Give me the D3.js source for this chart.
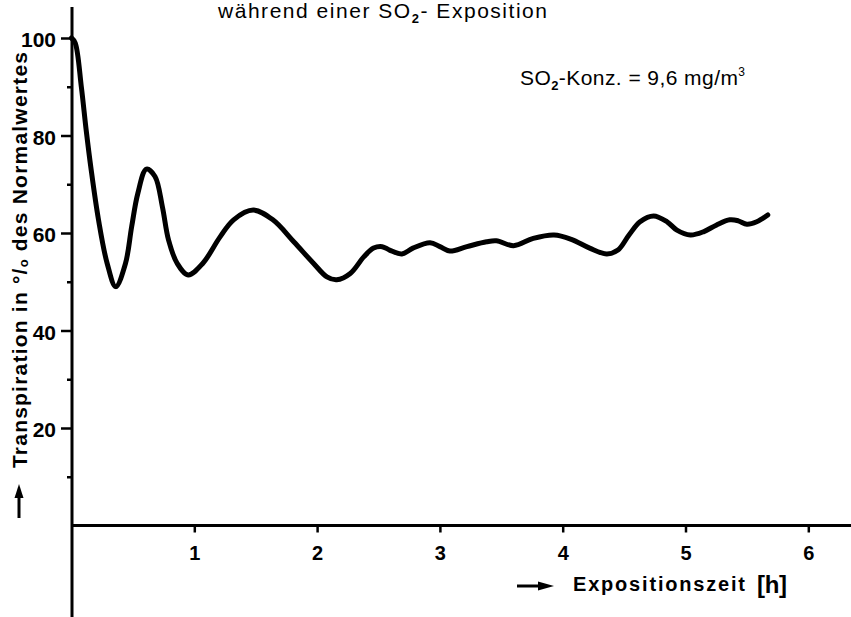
<!DOCTYPE html>
<html>
<head>
<meta charset="utf-8">
<script src="https://cdn.jsdelivr.net/npm/d3@7/dist/d3.min.js"></script>
<style>
  body { margin: 0; background: #fff; }
  svg text { fill: #000; }
</style>
</head>
<body>
<div id="chart"></div>
<script>
// Transpiration (% of normal) during SO2 exposure
var hours = [0, 0.03, 0.08, 0.12, 0.16, 0.22, 0.29, 0.36, 0.44, 0.49,
  0.54, 0.61, 0.68, 0.74, 0.79, 0.86, 0.95, 1.07, 1.21, 1.32,
  1.48, 1.64, 1.81, 1.97, 2.08, 2.16, 2.27, 2.38, 2.46, 2.53,
  2.59, 2.69, 2.78, 2.92, 3.0, 3.08, 3.22, 3.38, 3.46, 3.6,
  3.76, 3.93, 4.07, 4.22, 4.36, 4.45, 4.54, 4.63, 4.74, 4.85,
  4.93, 5.04, 5.15, 5.25, 5.36, 5.43, 5.5, 5.58, 5.67];
var transpiration = [100, 99, 90, 81, 73, 62.7, 53.8, 49, 53.8, 61.3,
  68.1, 73.1, 71.6, 65.4, 58.6, 53.8, 51.4, 53.8, 59.2, 62.7,
  64.7, 62.7, 58.2, 53.8, 51, 50.4, 51.7, 55.1, 56.9, 57.2,
  56.5, 55.7, 56.9, 58, 57.2, 56.3, 57.2, 58.2, 58.4, 57.4,
  58.9, 59.6, 58.7, 56.9, 55.7, 56.5, 59.6, 62.3, 63.5, 62.3,
  60.6, 59.6, 60.3, 61.6, 62.7, 62.5, 61.8, 62.3, 63.7];

var xTicks = [1, 2, 3, 4, 5, 6];
var yTicks = [20, 40, 60, 80, 100];
var yMinorTicks = [10, 30, 50, 70, 90];

var W = 851, H = 617;
var svg = d3.select("#chart").append("svg")
  .attr("width", W).attr("height", H);

var x = d3.scaleLinear().domain([0, 6]).range([71.5, 808.3]);
var y = d3.scaleLinear().domain([0, 100]).range([525.5, 38]);

var narrowFont = "'Liberation Sans Narrow', 'Liberation Sans', Arial, sans-serif";
var textFont = "'Liberation Sans', Arial, sans-serif";

// axis lines (run past the data range like in the print)
svg.append("line")
  .attr("x1", 72).attr("x2", 72).attr("y1", 7).attr("y2", H)
  .attr("stroke", "#000").attr("stroke-width", 3);
svg.append("line")
  .attr("x1", 72).attr("x2", W).attr("y1", y(0)).attr("y2", y(0))
  .attr("stroke", "#000").attr("stroke-width", 3);

// y axis
var yAxis = svg.append("g")
  .attr("transform", "translate(72,0)")
  .call(d3.axisLeft(y).tickValues(yTicks).tickSize(11).tickPadding(5));
var yMinor = svg.append("g")
  .attr("transform", "translate(72,0)")
  .call(d3.axisLeft(y).tickValues(yMinorTicks).tickSize(5).tickFormat(""));

// x axis
var xAxis = svg.append("g")
  .attr("transform", "translate(0," + y(0) + ")")
  .call(d3.axisBottom(x).tickValues(xTicks).tickSize(7).tickPadding(13).tickFormat(d3.format("d")));

[yAxis, yMinor, xAxis].forEach(function (g) {
  g.select(".domain").remove();
  g.selectAll(".tick line").attr("stroke", "#000").attr("stroke-width", 2.5);
  g.selectAll(".tick text")
    .style("font-weight", "bold");
});
yAxis.selectAll(".tick text")
  .attr("dy", "0.42em")
  .style("font-family", textFont)
  .style("font-size", "21px");
xAxis.selectAll(".tick text")
  .style("font-family", narrowFont)
  .style("font-size", "20px");

// curve
var line = d3.line()
  .x(function (d, i) { return x(hours[i]); })
  .y(function (d) { return y(d); })
  .curve(d3.curveCatmullRom.alpha(0.5));

svg.append("path")
  .datum(transpiration)
  .attr("d", line)
  .attr("fill", "none")
  .attr("stroke", "#000")
  .attr("stroke-width", 5)
  .attr("stroke-linejoin", "round")
  .attr("stroke-linecap", "round");

// title (at the top edge of the scan)
var title = svg.append("text")
  .attr("x", 218).attr("y", 18)
  .attr("textLength", 329).attr("lengthAdjust", "spacing")
  .style("font-family", textFont)
  .style("font-size", "21px");
title.append("tspan").text("während einer SO");
title.append("tspan").attr("dy", 5).style("font-size", "13px").style("font-weight", "bold").text("2");
title.append("tspan").attr("dy", -5).text("- Exposition");

// concentration note
var note = svg.append("text")
  .attr("x", 520).attr("y", 85)
  .attr("textLength", 225).attr("lengthAdjust", "spacing")
  .style("font-family", textFont)
  .style("font-size", "21px");
note.append("tspan").text("SO");
note.append("tspan").attr("dy", 5).style("font-size", "13px").style("font-weight", "bold").text("2");
note.append("tspan").attr("dy", -5).text("-Konz. = 9,6 mg/m");
note.append("tspan").attr("dy", -9).style("font-size", "12px").text("3");

// y title
var yTitle = svg.append("text")
  .attr("transform", "translate(27,468) rotate(-90)")
  .attr("textLength", 416).attr("lengthAdjust", "spacing")
  .style("font-family", textFont)
  .style("font-weight", "bold")
  .style("font-size", "21px");
yTitle.append("tspan").text("Transpiration in °/");
yTitle.append("tspan").attr("dy", 1).style("font-size", "13px").text("o");
yTitle.append("tspan").attr("dy", -1).text(" des Normalwertes");

// y arrow
svg.append("line")
  .attr("x1", 19).attr("x2", 19).attr("y1", 518).attr("y2", 495)
  .attr("stroke", "#000").attr("stroke-width", 3);
svg.append("path")
  .attr("d", "M19,484 L14.5,498 L23.5,498 Z")
  .attr("fill", "#000");

// x title with arrow
svg.append("line")
  .attr("x1", 517).attr("x2", 542).attr("y1", 586).attr("y2", 586)
  .attr("stroke", "#000").attr("stroke-width", 3);
svg.append("path")
  .attr("d", "M554,586 L538,581.5 L538,590.5 Z")
  .attr("fill", "#000");
svg.append("text")
  .attr("x", 573).attr("y", 591)
  .attr("textLength", 172).attr("lengthAdjust", "spacing")
  .style("font-family", textFont)
  .style("font-weight", "bold")
  .style("font-size", "20px")
  .text("Expositionszeit");
svg.append("text")
  .attr("x", 757).attr("y", 593)
  .attr("textLength", 30).attr("lengthAdjust", "spacing")
  .style("font-family", textFont)
  .style("font-weight", "bold")
  .style("font-size", "24px")
  .text("[h]");
</script>
</body>
</html>
